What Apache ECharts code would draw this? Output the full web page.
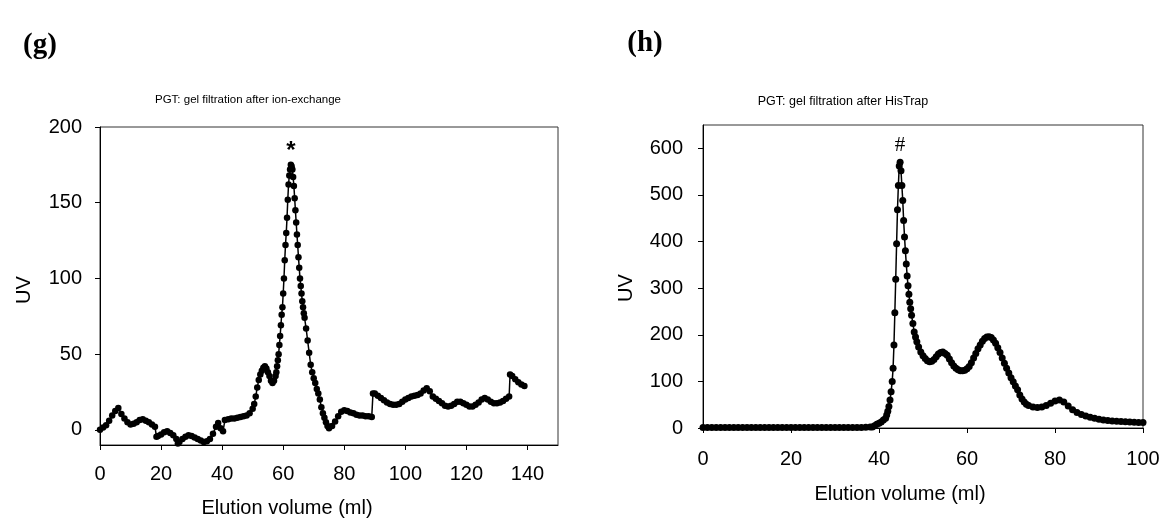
<!DOCTYPE html>
<html>
<head>
<meta charset="utf-8">
<script src="https://cdn.jsdelivr.net/npm/echarts@6/dist/echarts.min.js"></script>
<style>
  html, body { margin: 0; padding: 0; background: #fff; }
  #chart { width: 1166px; height: 523px; }
</style>
</head>
<body>
<div id="chart"></div>
<script>
  // (g) gel filtration after ion-exchange
  const volG = [0, 1, 2, 3, 4, 5, 6, 7, 8, 9, 10, 11, 12, 13, 14, 15, 16, 17, 18, 18.5, 19, 20, 21, 22, 23, 24, 25, 25.5, 26, 27, 28, 29, 30, 31, 32, 33, 34, 35, 36, 37, 38, 38.7, 39.5, 40.3, 40.9, 42, 43, 44, 45, 46, 47, 48, 49, 50, 50.5, 51, 51.5, 52, 52.5, 53, 53.5, 54, 54.5, 55, 55.5, 56, 56.5, 57, 57.5, 57.75, 58, 58.25, 58.5, 58.75, 59, 59.25, 59.5, 59.75, 60, 60.25, 60.5, 60.75, 61, 61.25, 61.5, 61.75, 62, 62.25, 62.5, 62.75, 63, 63.25, 63.5, 63.75, 64, 64.25, 64.5, 64.75, 65, 65.25, 65.5, 65.75, 66, 66.25, 66.5, 66.75, 67, 67.5, 68, 68.5, 69, 69.5, 70, 70.5, 71, 71.5, 72, 72.5, 73, 73.5, 74, 74.5, 75, 76, 77, 78, 79, 80, 81, 82, 83, 84, 85, 86, 87, 88, 89, 89.4, 90, 91, 92, 93, 94, 95, 96, 97, 98, 99, 100, 101, 102, 103, 104, 105, 106, 107, 108, 109, 110, 111, 112, 113, 114, 115, 116, 117, 118, 119, 120, 121, 122, 123, 124, 125, 126, 127, 128, 129, 130, 131, 132, 133, 134, 134.3, 135, 136, 137, 138, 139];
  const uvG = [0, 1.5, 3, 6, 9.5, 12.5, 14.5, 10.5, 7.5, 5, 3.5, 4, 5, 6.5, 7, 6, 5, 3.5, 2, -4.5, -4, -3, -1.5, -1, -2, -3.5, -6, -9, -8, -6, -4.5, -3.5, -4, -5, -6, -7, -8, -7.5, -6, -2.5, 2, 4.5, 1, -1, 6.5, 7, 7.5, 7.5, 8, 8.5, 9, 9.5, 11, 14, 17, 22, 28, 33, 36.5, 39, 41, 42, 40.5, 38, 35.5, 32.5, 31, 32.5, 35.5, 38, 42, 46, 50, 56, 62, 69, 76, 81, 90, 100, 112, 122, 130, 140, 152, 162, 168, 172, 175, 174, 172, 167, 161, 153, 145, 137, 129, 122, 114, 107, 100, 95, 90, 85, 81, 77, 74, 67, 59, 51, 43, 38, 34, 31, 27, 24, 20, 15, 11, 8, 5, 2.5, 1, 2.5, 5.5, 9, 12, 13, 12.5, 11.5, 11, 10, 9.5, 9.5, 9, 9, 8.5, 24, 24, 22.5, 21, 19.5, 18, 17, 16.5, 16.5, 17, 18.5, 20, 21, 22, 22.5, 23, 24, 26, 27.5, 25.5, 22, 20.5, 19, 17.5, 16, 15.5, 16, 17, 18.5, 18.5, 17.5, 16.5, 15.5, 15.5, 16.5, 18, 20, 21, 20, 18.5, 17.5, 17.5, 18, 19, 20.5, 22, 36.5, 35.5, 33.5, 31.5, 30, 29];
  const xTicksG = [0, 20, 40, 60, 80, 100, 120, 140];
  const yTicksG = [0, 50, 100, 150, 200];

  // (h) gel filtration after HisTrap
  const volH = [0, 1, 2, 3, 4, 5, 6, 7, 8, 9, 10, 11, 12, 13, 14, 15, 16, 17, 18, 19, 20, 21, 22, 23, 24, 25, 26, 27, 28, 29, 30, 31, 32, 33, 34, 35, 36, 37, 38, 38.5, 39, 39.5, 40, 40.5, 41, 41.5, 41.75, 42, 42.25, 42.5, 42.75, 43, 43.2, 43.4, 43.6, 43.8, 44, 44.2, 44.4, 44.6, 44.8, 45, 45.2, 45.4, 45.6, 45.8, 46, 46.2, 46.4, 46.6, 46.8, 47, 47.2, 47.4, 47.7, 48, 48.3, 48.6, 49, 49.5, 50, 50.5, 51, 51.5, 52, 52.5, 53, 53.5, 54, 54.5, 55, 55.5, 56, 56.5, 57, 57.5, 58, 58.5, 59, 59.5, 60, 60.5, 61, 61.5, 62, 62.5, 63, 63.5, 64, 64.5, 65, 65.5, 66, 66.5, 67, 67.5, 68, 68.5, 69, 69.5, 70, 70.5, 71, 71.5, 72, 72.5, 73, 73.5, 74, 75, 76, 77, 78, 79, 80, 81, 82, 83, 84, 85, 86, 87, 88, 89, 90, 91, 92, 93, 94, 95, 96, 97, 98, 99, 100];
  const uvH = [1, 1, 1, 1, 1, 1, 1, 1, 1, 1, 1, 1, 1, 1, 1, 1, 1, 1, 1, 1, 1, 1, 1, 1, 1, 1, 1, 1, 1, 1, 1, 1, 1, 1, 1, 1, 1, 1.5, 2, 2, 5, 8, 10, 13, 17, 21, 28, 36, 46, 60, 78, 100, 128, 178, 247, 319, 395, 468, 520, 562, 570, 552, 520, 488, 445, 410, 380, 352, 326, 305, 287, 270, 256, 242, 224, 206, 195, 185, 174, 163, 155, 149, 144, 142, 143, 147, 153, 159, 162, 163, 160, 156, 148, 140, 133, 128, 125, 123, 123, 124, 127, 132, 140, 150, 160, 170, 178, 186, 192, 195, 196, 194, 189, 182, 172, 162, 150, 139, 128, 118, 108, 99, 90, 82, 71, 62, 56, 51, 48, 45, 44, 45, 48, 53, 58, 60, 56, 47, 39, 33, 29, 26, 23, 21, 19, 17, 16, 15, 14.5, 14, 13.5, 13, 12.5, 12, 12];
  const xTicksH = [0, 20, 40, 60, 80, 100];
  const yTicksH = [0, 100, 200, 300, 400, 500, 600];

  const sans = '"Liberation Sans", Arial, sans-serif';
  const zip = (xs, ys) => xs.map((x, i) => [x, ys[i]]);

  const axisBase = (grid, min, max, ticks, margin) => ({
    type: 'value', gridIndex: grid, min: min, max: max,
    axisLine: { show: true, onZero: false, lineStyle: { color: '#000', width: 1 } },
    axisTick: { show: true, length: 5, customValues: ticks, lineStyle: { color: '#000' } },
    axisLabel: { customValues: ticks, fontSize: 20, fontFamily: sans, color: '#000', margin: margin },
    splitLine: { show: false }
  });
  const seriesBase = (idx, data, size) => ({
    type: 'line', xAxisIndex: idx, yAxisIndex: idx, data: data,
    symbol: 'circle', symbolSize: size, showSymbol: true, showAllSymbol: true,
    itemStyle: { color: '#000' }, lineStyle: { color: '#000', width: 1.5 },
    clip: true
  });

  const txt = (x, y, text, font, extra) => Object.assign({
    type: 'text', x: x, y: y,
    style: { text: text, font: font, fill: '#000', align: 'center', verticalAlign: 'middle',
             textAlign: 'center', textVerticalAlign: 'middle' }
  }, extra || {});

  const option = {
    animation: false,
    backgroundColor: '#fff',
    grid: [
      { left: 100, top: 127, width: 458, height: 318, show: true, borderColor: '#333', borderWidth: 1, outerBoundsMode: 'none' },
      { left: 703, top: 125, width: 440, height: 303, show: true, borderColor: '#333', borderWidth: 1, outerBoundsMode: 'none' }
    ],
    xAxis: [axisBase(0, 0, 150, xTicksG, 19), axisBase(1, 0, 100, xTicksH, 21)],
    yAxis: [axisBase(0, -10, 200, yTicksG, 18), axisBase(1, 0, 650, yTicksH, 20)],
    series: [
      Object.assign(seriesBase(0, zip(volG, uvG), 6.5), {
        markPoint: {
          symbol: 'circle', symbolSize: 0,
          label: { show: true, position: 'inside', formatter: '*', fontSize: 24, fontWeight: 'bold', fontFamily: sans, color: '#000' },
          data: [{ coord: [62.5, 184] }]
        }
      }),
      Object.assign(seriesBase(1, zip(volH, uvH), 7), {
        markPoint: {
          symbol: 'circle', symbolSize: 0,
          label: { show: true, position: 'inside', formatter: '#', fontSize: 21, fontFamily: '"Liberation Serif", serif', color: '#000' },
          data: [{ coord: [44.8, 606] }]
        }
      })
    ],
    graphic: [
      txt(40, 46, '(g)', 'bold 29px "Liberation Serif", "Times New Roman", serif'),
      txt(645, 44, '(h)', 'bold 29px "Liberation Serif", "Times New Roman", serif'),
      txt(248, 100, 'PGT: gel filtration after ion-exchange', '11.5px ' + sans),
      txt(843, 102, 'PGT: gel filtration after HisTrap', '12.5px ' + sans),
      txt(24, 290, 'UV', '20px ' + sans, { rotation: Math.PI / 2 }),
      txt(626, 288, 'UV', '20px ' + sans, { rotation: Math.PI / 2 }),
      txt(287, 508, 'Elution volume (ml)', '20px ' + sans),
      txt(900, 494, 'Elution volume (ml)', '20px ' + sans)
    ]
  };

  const myChart = echarts.init(document.getElementById('chart'));
  myChart.setOption(option);
</script>
</body>
</html>
